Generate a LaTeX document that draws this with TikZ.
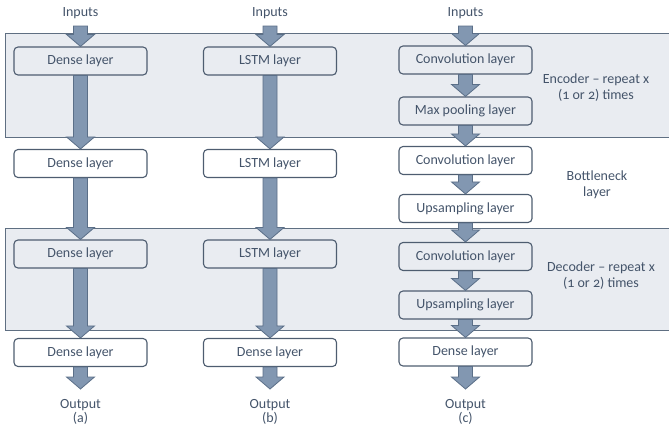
\documentclass[tikz,border=0pt]{standalone}
\usepackage{fontspec}
\setmainfont{Carlito}[Numbers=OldStyle]
\usetikzlibrary{calc}
\definecolor{bandfill}{HTML}{E9ECF1}
\definecolor{banddraw}{HTML}{5F6F82}
\definecolor{boxdraw}{HTML}{4E5D70}
\definecolor{txt}{HTML}{44546A}
\definecolor{arrfill}{HTML}{8297B1}
\definecolor{arrdraw}{HTML}{5B6F88}
\tikzset{
  band/.style={fill=bandfill,draw=banddraw,line width=1pt},
  layerbox/.style={draw=boxdraw,line width=1.1pt,rounded corners=4pt,minimum width=133pt,minimum height=28pt,inner sep=0pt,text=txt,font=\fontsize{14}{16}\selectfont},
  lbl/.style={text=txt,font=\fontsize{14}{16}\selectfont,align=center,inner sep=0pt},
  outlbl/.style={lbl,font=\fontsize{14}{14}\selectfont},
  fatarrow/.style={fill=arrfill,draw=arrdraw,line width=0.8pt,line join=miter}
}
\newcommand\fatarr[2]{\draw[fatarrow] let \p1=(#1), \p2=(#2) in
  (\x1-7pt,\y1) -- (\x1-7pt,\y2+12pt) -- (\x1-14pt,\y2+12pt) -- (\x1,\y2) --
  (\x1+14pt,\y2+12pt) -- (\x1+7pt,\y2+12pt) -- (\x1+7pt,\y1) -- cycle;}
\begin{document}
\begin{tikzpicture}[x=1pt,y=-1pt]
\useasboundingbox (0,0) rectangle (669,434);
% bands
\draw[band] (680,33) -- (5,33) -- (5,137) -- (680,137);
\draw[band] (680,228) -- (5,228) -- (5,330) -- (680,330);
% column (a)
\node[lbl] (inputa) at (80.5,13) {Inputs};
\coordinate (ina) at (80.5,26);
\node[layerbox] (a1) at (80.5,61) {Dense layer};
\node[layerbox] (a2) at (80.5,163.5) {Dense layer};
\node[layerbox] (a3) at (80.5,254) {Dense layer};
\node[layerbox] (a4) at (80.5,352.5) {Dense layer};
\coordinate (outa) at (80.5,389);
\node[outlbl] (labela) at (80.5,411.5) {Output\\(a)};
% column (b)
\node[lbl] (inputb) at (270,13) {Inputs};
\coordinate (inb) at (270,26);
\node[layerbox] (b1) at (270,61) {LSTM layer};
\node[layerbox] (b2) at (270,163.5) {LSTM layer};
\node[layerbox] (b3) at (270,254) {LSTM layer};
\node[layerbox] (b4) at (270,352.5) {Dense layer};
\coordinate (outb) at (270,389);
\node[outlbl] (labelb) at (270,411.5) {Output\\(b)};
% column (c)
\node[lbl] (inputc) at (465.5,13) {Inputs};
\coordinate (inc) at (465.5,26);
\node[layerbox] (c1) at (465.5,60) {Convolution layer};
\node[layerbox] (c2) at (465.5,111) {Max pooling layer};
\node[layerbox] (c3) at (465.5,160.5) {Convolution layer};
\node[layerbox] (c4) at (465.5,208.5) {Upsampling layer};
\node[layerbox] (c5) at (465.5,256.5) {Convolution layer};
\node[layerbox] (c6) at (465.5,305) {Upsampling layer};
\node[layerbox] (c7) at (465.5,352) {Dense layer};
\coordinate (outc) at (465.5,389);
\node[outlbl] (labelc) at (465.5,411.5) {Output\\(c)};
% side labels
\node[lbl] (enc) at (596,88) {Encoder -- repeat x\\(1 or 2) times};
\node[lbl] (bot) at (597,185) {Bottleneck\\layer};
\node[lbl] (dec) at (601,276) {Decoder -- repeat x\\(1 or 2) times};
% arrows
\fatarr{ina}{a1.north}
\fatarr{a1.south}{a2.north}
\fatarr{a2.south}{a3.north}
\fatarr{a3.south}{a4.north}
\fatarr{a4.south}{outa}
\fatarr{inb}{b1.north}
\fatarr{b1.south}{b2.north}
\fatarr{b2.south}{b3.north}
\fatarr{b3.south}{b4.north}
\fatarr{b4.south}{outb}
\fatarr{inc}{c1.north}
\fatarr{c1.south}{c2.north}
\fatarr{c2.south}{c3.north}
\fatarr{c3.south}{c4.north}
\fatarr{c4.south}{c5.north}
\fatarr{c5.south}{c6.north}
\fatarr{c6.south}{c7.north}
\fatarr{c7.south}{outc}
\end{tikzpicture}
\end{document}
